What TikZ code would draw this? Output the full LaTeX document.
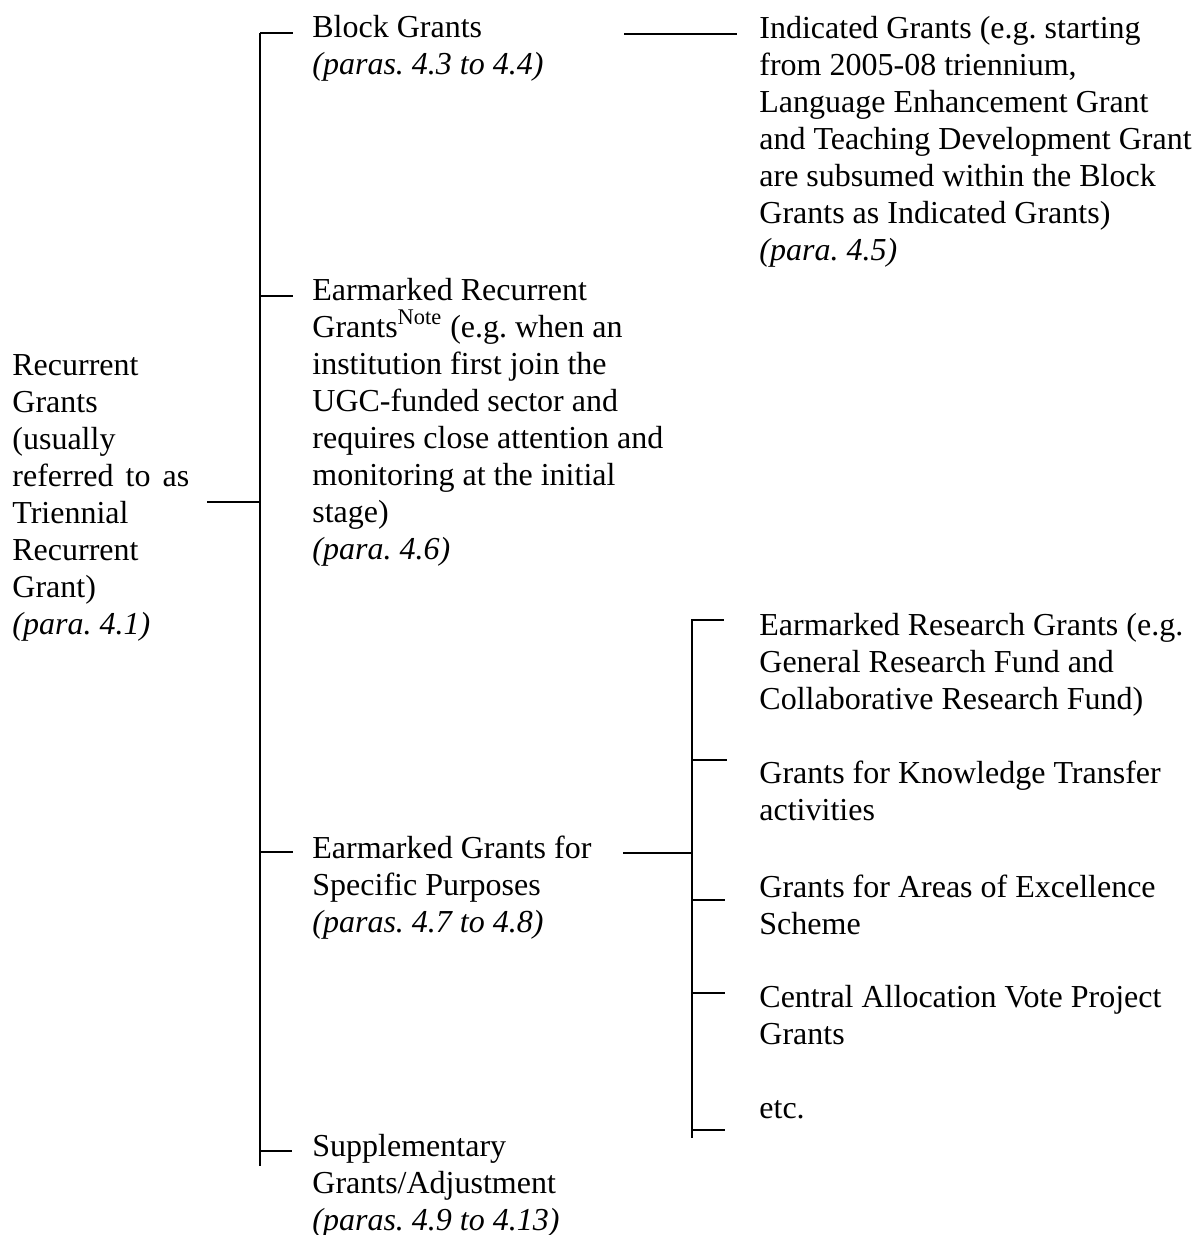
\documentclass[tikz,border=0pt]{standalone}
\usepackage{fontspec}
\setmainfont{Liberation Serif}
\frenchspacing
\newcommand\tbox[1]{\parbox[t]{300pt}{\raggedright #1}}
\begin{document}
\begin{tikzpicture}[x=0.5pt,y=-0.5pt,
  txt/.style={inner sep=0pt, anchor=base west, font=\fontsize{16}{18.5}\selectfont},
  conn/.style={draw=black, line width=1.35pt},
  vconn/.style={draw=black, line width=1pt}]
\useasboundingbox (0,0) rectangle (1198,1235);

% text nodes
\node[txt] (root) at (12,375) {\tbox{Recurrent\\Grants\\(usually\\\makebox[88.5pt][s]{referred to as}\\Triennial\\Recurrent\\Grant)\\\textit{(para. 4.1)}}};
\node[txt] (block) at (312,38) {\tbox{Block Grants\\\textit{(paras. 4.3 to 4.4)}}};
\node[txt] (ear) at (312,300) {\tbox{Earmarked Recurrent\\Grants\textsuperscript{Note} (e.g. when an\\institution first join the\\UGC-funded sector and\\requires close attention and\\monitoring at the initial\\stage)\\\textit{(para. 4.6)}}};
\node[txt] (egsp) at (312,858) {\tbox{Earmarked Grants for\\Specific Purposes\\\textit{(paras. 4.7 to 4.8)}}};
\node[txt] (supp) at (312,1156) {\tbox{Supplementary\\Grants/Adjustment\\\textit{(paras. 4.9 to 4.13)}}};
\node[txt] (ind) at (759,39) {\tbox{Indicated Grants (e.g. starting\\from 2005-08 triennium,\\Language Enhancement Grant\\and Teaching Development Grant\\are subsumed within the Block\\Grants as Indicated Grants)\\\textit{(para. 4.5)}}};
\node[txt] (res) at (759,635) {\tbox{Earmarked Research Grants (e.g.\\General Research Fund and\\Collaborative Research Fund)}};
\node[txt] (kt) at (759,783) {\tbox{Grants for Knowledge Transfer\\activities}};
\node[txt] (aoe) at (759,897) {\tbox{Grants for Areas of Excellence\\Scheme}};
\node[txt] (cav) at (759,1007) {\tbox{Central Allocation Vote Project\\Grants}};
\node[txt] (etc) at (759,1118) {etc.};

% junction coordinates
\coordinate (rootR) at (207,502);
\coordinate (rootJ) at (260,502);
\coordinate (vTop) at (260,33);
\coordinate (vBot) at (260,1166);
\coordinate (bJ) at (260,33);   \coordinate (bE) at (293,33);
\coordinate (eJ) at (260,296);  \coordinate (eE) at (293,296);
\coordinate (gJ) at (260,852);  \coordinate (gE) at (293,852);
\coordinate (sJ) at (260,1151); \coordinate (sE) at (292,1151);
\coordinate (blkR) at (624,34); \coordinate (indL) at (737,34);
\coordinate (egR) at (623,853); \coordinate (rJ) at (692,853);
\coordinate (rTop) at (692,619); \coordinate (rBot) at (692,1138);
\coordinate (t1J) at (692,620);  \coordinate (t1E) at (724,620);
\coordinate (t2J) at (692,760);  \coordinate (t2E) at (727,760);
\coordinate (t3J) at (692,900);  \coordinate (t3E) at (725,900);
\coordinate (t4J) at (692,993);  \coordinate (t4E) at (725,993);
\coordinate (t5J) at (692,1130); \coordinate (t5E) at (725,1130);

% connectors
\draw[conn] (rootR) -- (rootJ);
\draw[vconn] (vTop) -- (vBot);
\draw[conn] (bJ) -- (bE);
\draw[conn] (eJ) -- (eE);
\draw[conn] (gJ) -- (gE);
\draw[conn] (sJ) -- (sE);
\draw[conn] (blkR) -- (indL);
\draw[conn] (egR) -- (rJ);
\draw[conn] (rTop) -- (rBot);
\draw[conn] (t1J) -- (t1E);
\draw[conn] (t2J) -- (t2E);
\draw[conn] (t3J) -- (t3E);
\draw[conn] (t4J) -- (t4E);
\draw[conn] (t5J) -- (t5E);
\end{tikzpicture}
\end{document}
